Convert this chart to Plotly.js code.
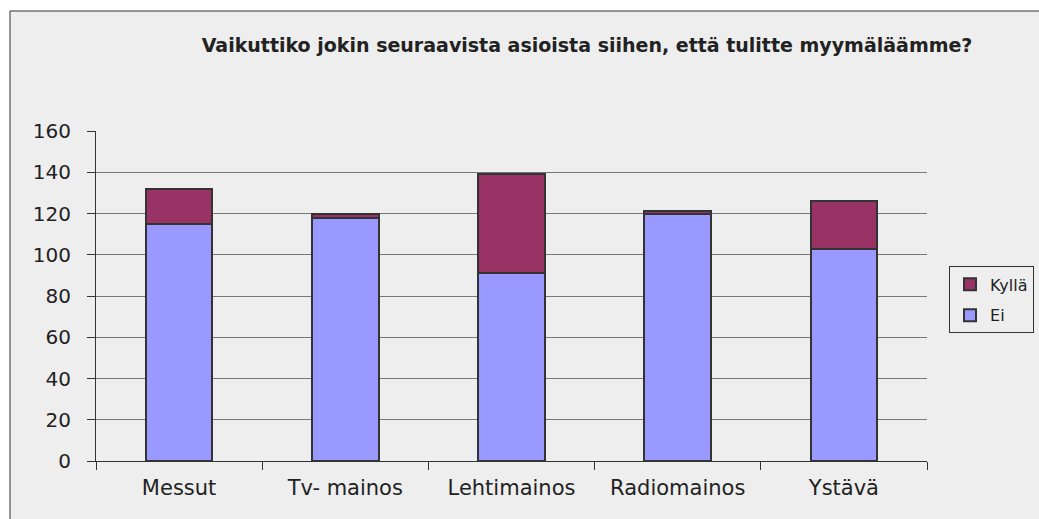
<!DOCTYPE html>
<html>
<head>
<meta charset="utf-8">
<script src="https://cdn.plot.ly/plotly-3.0.1.min.js"></script>
<style>html,body{margin:0;padding:0;background:#fff;}#chart{width:1039px;height:519px;}</style>
</head>
<body>
<div id="chart"></div>
<script>
const categories = ["Messut", "Tv- mainos", "Lehtimainos", "Radiomainos", "Ystävä"];
const eiValues = [115, 118, 91, 120, 103];
const kyllaValues = [17, 2, 48, 1, 23];
const seriesNames = ["Ei", "Kyllä"];
const yTicks = [0, 20, 40, 60, 80, 100, 120, 140, 160];
const titleText = "Vaikuttiko jokin seuraavista asioista siihen, että tulitte myymäläämme?";

const font = "DejaVu Sans, Liberation Sans, Arial, sans-serif";
const barLine = {color: "#333333", width: 2};

const traces = [
  {type: "bar", name: seriesNames[0], x: categories, y: eiValues, legendgroup: "ei", legendrank: 2,
   marker: {color: "#9999FF", line: barLine}},
  {type: "bar", name: seriesNames[1], x: categories, y: kyllaValues, legendgroup: "kylla", legendrank: 1,
   marker: {color: "#993366", line: barLine}}
];

const layout = {
  width: 1039, height: 519,
  margin: {l: 96, r: 112, t: 131, b: 58, autoexpand: false},
  paper_bgcolor: "#ffffff",
  plot_bgcolor: "rgba(0,0,0,0)",
  barmode: "stack",
  bargap: 0.6,
  font: {family: font, size: 16, color: "#222222"},
  title: {text: titleText, font: {family: font, size: 19, color: "#222222", weight: "bold"},
          x: 0.565, xanchor: "center", xref: "container", y: 0.913, yanchor: "middle", yref: "container"},
  xaxis: {type: "category", tickson: "boundaries", ticks: "outside", ticklen: 8, tickcolor: "#333333",
          showline: true, linecolor: "#333333", linewidth: 1, showgrid: false,
          ticklabelstandoff: 8, automargin: false,
          tickfont: {family: font, size: 21, color: "#222222"}, fixedrange: true},
  yaxis: {range: [0, 160], tickvals: yTicks, ticks: "outside", ticklen: 8, tickcolor: "#333333",
          showline: true, linecolor: "#333333", linewidth: 1, showgrid: true, gridcolor: "#777777",
          gridwidth: 1, zeroline: false, ticklabelstandoff: 12, automargin: false,
          tickfont: {family: font, size: 20, color: "#222222"},
          fixedrange: true},
  legend: {x: 1.0265, xanchor: "left", y: 0.488, yanchor: "middle", traceorder: "grouped",
           tracegroupgap: 7,
           bgcolor: "#EEEEEE", bordercolor: "#333333", borderwidth: 1,
           font: {family: font, size: 16, color: "#222222"}, itemwidth: 30},
  shapes: [{type: "rect", xref: "paper", yref: "paper", x0: -0.1035, x1: 1.3, y0: -0.3, y1: 1.3636,
            fillcolor: "#EEEEEE", line: {color: "#333333", width: 1}, layer: "below"}],
  showlegend: true
};

Plotly.newPlot("chart", traces, layout, {displayModeBar: false, staticPlot: true});
</script>
</body>
</html>
